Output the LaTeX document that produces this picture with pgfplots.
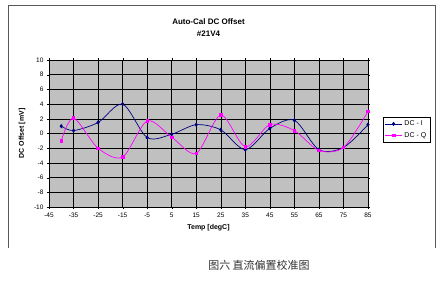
\documentclass[border=0pt]{standalone}
\usepackage{pgfplots}
\pgfplotsset{compat=1.18}
\usepackage{fontspec}
\setmainfont{Liberation Sans}
\newfontfamily\cjk{Noto Sans CJK SC}
\definecolor{plotgray}{RGB}{192,192,192}
\definecolor{navyI}{RGB}{0,0,128}
\definecolor{magQ}{RGB}{255,0,255}
\begin{document}
\begin{tikzpicture}[x=1pt,y=1pt]
\path[fill=white] (0,0) rectangle (440,-284);
\draw[gray!70!black,line width=0.6pt] (8,-248) -- (8,-5) -- (435,-5) -- (435,-248);
\begin{axis}[
  scale only axis, width=319pt, height=147pt,
  at={(49pt,-207pt)}, anchor=south west,
  xmin=-45, xmax=85, ymin=-10, ymax=10,
  xtick={-45,-35,...,85}, ytick={-10,-8,...,10},
  grid=major, major grid style={black, line width=0.5pt},
  axis background/.style={fill=plotgray},
  axis line style={black},
  tick style={black}, tick align=outside,
  major tick length=2pt,
  ticklabel style={font=\fontsize{6.5}{7}\selectfont},
  /pgf/number format/assume math mode=true,
  title={\textbf{Auto-Cal DC Offset}\\\textbf{\#21V4}},
  title style={font=\fontsize{8}{12}\selectfont, align=center, at={(0.5,1.0)}, yshift=14pt},
  xlabel={\textbf{Temp [degC]}},
  ylabel={\textbf{DC Offset [mV]}},
  ylabel style={yshift=2pt},
  label style={font=\fontsize{7}{8}\selectfont},
  legend style={at={(1.047,0.612)}, anchor=north west, draw=black, fill=white,
    font=\fontsize{7}{8}\selectfont, inner sep=1.5pt, row sep=1pt},
  legend cell align=left,
]
\addplot[navyI, line width=0.7pt, smooth, tension=0.5, mark=diamond*, mark size=1.6pt, mark options={fill=navyI}]
coordinates {(-40,1.0) (-35,0.4) (-25,1.5) (-15,4.0) (-5,-0.55) (5,-0.1) (15,1.2) (25,0.5) (35,-2.2) (45,0.7) (55,1.8) (65,-2.2) (75,-1.9) (85,1.2)};
\addlegendentry{DC - I}
\addplot[magQ, line width=0.7pt, smooth, tension=0.5, mark=square*, mark size=1.3pt, mark options={fill=magQ}]
coordinates {(-40,-1.0) (-35,2.1) (-25,-2.0) (-15,-3.2) (-5,1.7) (5,-0.5) (15,-2.7) (25,2.5) (35,-1.8) (45,1.2) (55,0.4) (65,-2.3) (75,-1.9) (85,3.0)};
\addlegendentry{DC - Q}
\end{axis}
\node[font=\cjk\fontsize{11}{13}\selectfont, text=black!80] at (259,-265) {图六\ 直流偏置校准图};
\end{tikzpicture}
\end{document}
